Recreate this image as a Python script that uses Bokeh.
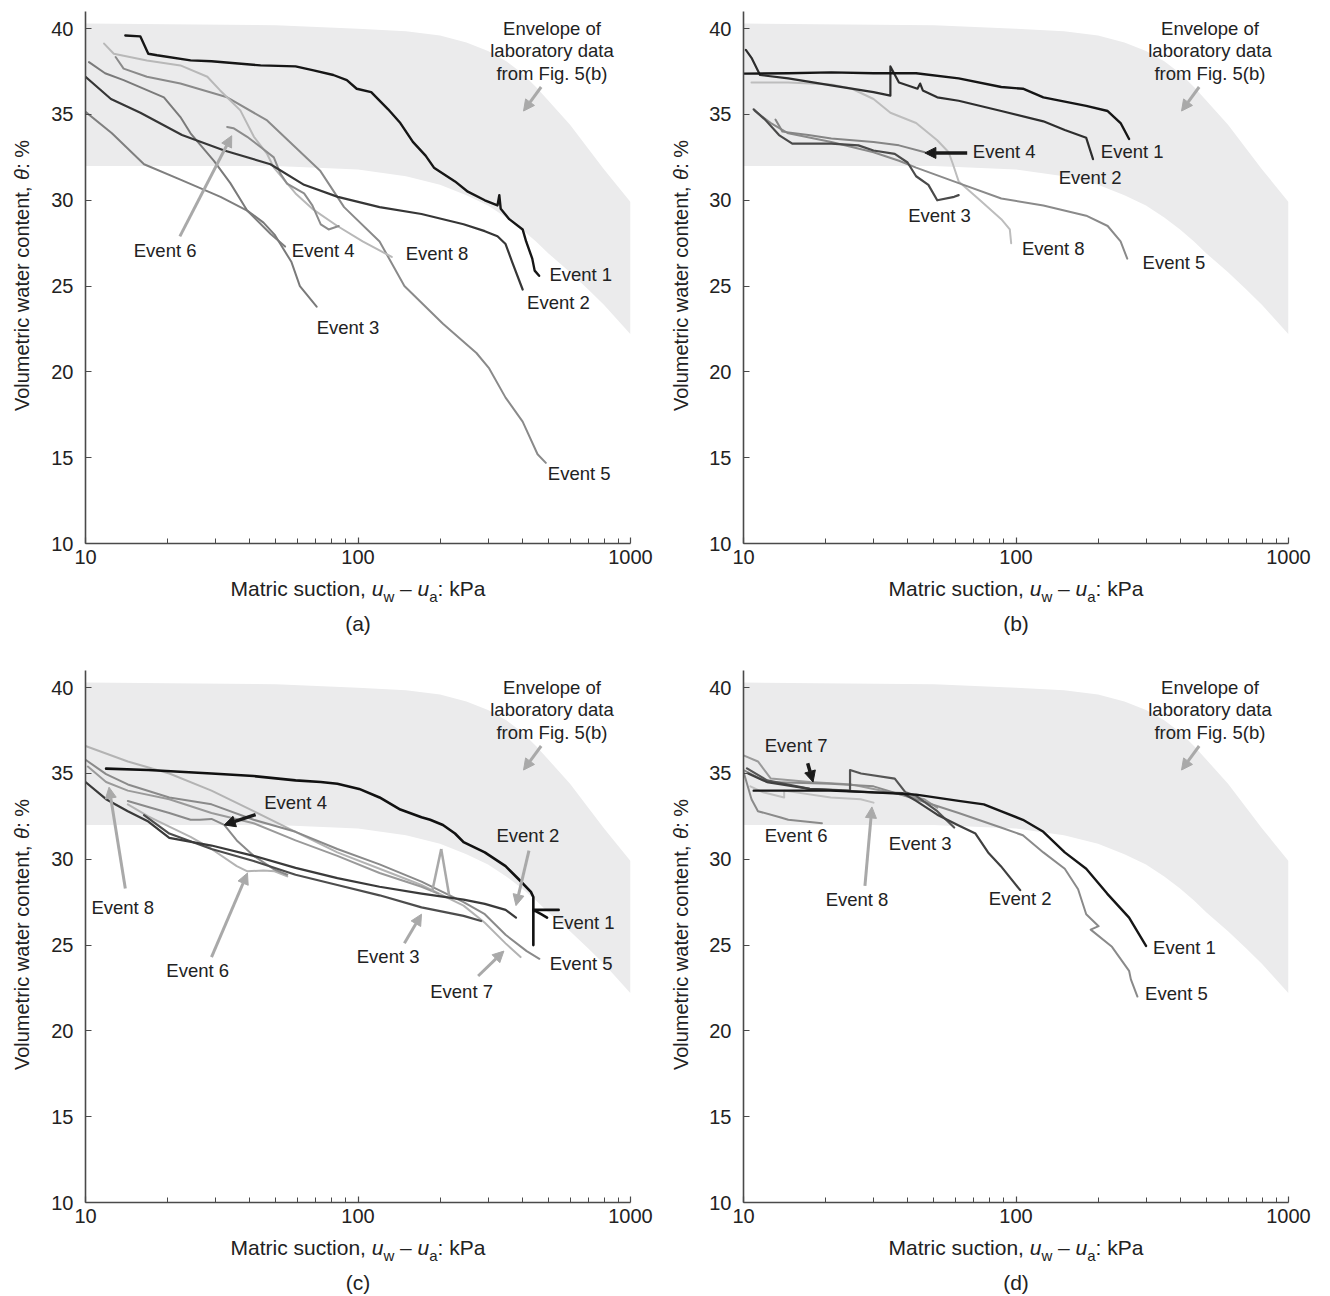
import math
from bokeh.plotting import figure
from bokeh.models import Label, Arrow, NormalHead, FixedTicker, PrintfTickFormatter, Range1d, Spacer
from bokeh.layouts import row, column
from bokeh.embed import file_html
from bokeh.resources import INLINE

# ---------------- envelope of laboratory data ----------------
env_x = [10, 50, 100, 150, 200, 250, 300, 350, 400, 450, 500, 600, 700, 800, 1000]
env_upper = [40.3, 40.2, 40.0, 39.85, 39.6, 39.2, 38.7, 38.1, 37.4, 36.6, 35.8, 34.4, 33.0, 31.8, 29.9]
env_lower = [32.0, 32.0, 31.8, 31.4, 30.9, 30.3, 29.7, 29.0, 28.3, 27.6, 26.9, 25.8, 24.8, 23.9, 22.2]

# ---------------- panel (a) ----------------
a_e1_x = [14.0, 15.9, 17.0, 18.3, 24.3, 29.0, 43.9, 59.0, 68.7, 81.2, 91.0, 98.9, 111.8, 129, 143, 159, 177, 190, 227, 253, 292, 325, 330, 334, 359, 402, 414, 436, 445, 462]
a_e1_y = [39.6, 39.55, 38.54, 38.45, 38.15, 38.1, 37.86, 37.8, 37.57, 37.3, 37.0, 36.5, 36.3, 35.3, 34.5, 33.4, 32.6, 31.9, 31.1, 30.5, 30.0, 29.7, 30.3, 29.5, 28.9, 28.3, 27.6, 26.6, 25.9, 25.6]
a_e2_x = [10, 12.4, 15.9, 22.6, 32.3, 47.7, 63.4, 84.3, 120, 171, 244, 292, 325, 348, 368, 402]
a_e2_y = [37.2, 35.9, 35.1, 33.8, 32.9, 32.1, 30.9, 30.2, 29.6, 29.2, 28.6, 28.2, 27.9, 27.45, 26.4, 24.8]
a_e3_x = [10.3, 11.8, 13.8, 19.4, 22.3, 24.3, 29.6, 34.0, 39.2, 45.0, 49.4, 57.0, 61.2, 70.5]
a_e3_y = [38.05, 37.4, 37.0, 36.0, 34.85, 33.9, 32.3, 31.0, 29.4, 28.7, 28.0, 26.4, 25.0, 23.8]
a_e4_x = [10, 12.5, 16.4, 22.3, 31.3, 39.2, 47.7, 54.0]
a_e4_y = [35.15, 33.9, 32.1, 31.2, 30.2, 29.4, 28.05, 27.3]
a_e5_x = [12.9, 13.8, 16.8, 22.3, 33.1, 46.4, 72.8, 88.9, 120, 148, 205, 272, 303, 348, 402, 456, 489]
a_e5_y = [38.35, 37.67, 37.2, 36.8, 36.0, 34.65, 31.7, 29.6, 27.6, 25.0, 22.8, 21.1, 20.2, 18.5, 17.1, 15.2, 14.7]
a_e6_x = [33.1, 34.9, 39.2, 43.9, 49.1, 51.9, 54.9, 63.4, 68.0, 73.0, 78.0, 85.0]
a_e6_y = [34.27, 34.2, 33.7, 33.1, 32.5, 31.55, 30.97, 30.4, 29.7, 28.6, 28.3, 28.5]
a_e8_x = [11.7, 12.7, 16.8, 22.3, 28.0, 31.2, 37.0, 41.5, 46.4, 49.1, 59.0, 68.0, 84.0, 104, 133]
a_e8_y = [39.13, 38.54, 38.15, 37.86, 37.2, 36.4, 35.24, 33.7, 32.7, 31.9, 30.4, 29.5, 28.5, 27.6, 26.7]

# ---------------- panel (b) ----------------
b_e1_x = [10, 14.6, 21.0, 30.0, 34.6, 43.0, 61.6, 88.3, 106, 126, 181, 217, 242, 260]
b_e1_y = [37.38, 37.4, 37.45, 37.4, 37.4, 37.4, 37.1, 36.6, 36.5, 36.0, 35.5, 35.2, 34.5, 33.57]
b_e2_x = [10.2, 10.7, 11.5, 14.6, 21.0, 30.0, 34.6, 34.6, 37.2, 43.5, 44.5, 45.5, 51.4, 61.6, 88.3, 126, 151, 181, 191.7]
b_e2_y = [38.76, 38.3, 37.3, 37.1, 36.7, 36.3, 36.1, 37.8, 36.86, 36.5, 36.8, 36.4, 36.0, 35.8, 35.2, 34.6, 34.1, 33.64, 32.4]
b_e3_x = [10.9, 12.0, 13.5, 15.1, 21.0, 26.4, 30.0, 35.9, 40.0, 43.0, 47.7, 51.4, 59.3, 61.6]
b_e3_y = [35.3, 34.7, 33.8, 33.3, 33.3, 33.2, 32.9, 32.7, 32.2, 31.4, 30.9, 30.0, 30.2, 30.3]
b_e4_x = [13.1, 13.9, 17.3, 21.0, 30.0, 37.2, 46.3]
b_e4_y = [34.7, 34.0, 33.8, 33.6, 33.4, 33.2, 32.8]
b_e5_x = [11.0, 12.6, 14.6, 21.0, 30.0, 37.2, 43.0, 61.6, 88.3, 126, 181, 217, 242, 256]
b_e5_y = [35.2, 34.5, 33.9, 33.4, 32.8, 32.3, 31.9, 31.0, 30.1, 29.7, 29.1, 28.5, 27.6, 26.6]
b_e8_x = [10.7, 14.6, 21.0, 25.0, 30.0, 34.6, 43.0, 51.4, 56.6, 58.7, 61.6, 73.8, 88.3, 94.9, 96.0]
b_e8_y = [36.86, 36.86, 36.75, 36.5, 35.9, 35.1, 34.5, 33.5, 32.8, 32.1, 31.1, 30.0, 28.9, 28.3, 27.5]

# ---------------- panel (c) ----------------
c_e1_x = [11.9, 17.0, 29.0, 41.4, 59.0, 73.0, 84.0, 101, 120, 143, 171, 184, 205, 227, 244, 292, 348, 388, 431, 440, 440, 440, 470, 494]
c_e1_y = [35.28, 35.2, 35.0, 34.85, 34.6, 34.5, 34.4, 34.1, 33.6, 32.9, 32.45, 32.3, 32.0, 31.5, 31.0, 30.4, 29.6, 28.85, 28.1, 27.8, 25.0, 27.05, 26.8, 26.6]
c_e1_tail_x = [440, 545]
c_e1_tail_y = [27.05, 27.05]
c_e2_x = [10, 11.9, 14.3, 17, 20.3, 29, 41.4, 59, 84, 120, 171, 244, 292, 348, 380]
c_e2_y = [34.5, 33.5, 32.8, 32.2, 31.25, 30.8, 30.2, 29.5, 28.9, 28.4, 28.0, 27.65, 27.4, 27.05, 26.6]
c_e3_x = [16.4, 20.3, 29, 41.4, 59, 84, 120, 171, 244, 283]
c_e3_y = [32.57, 31.5, 30.6, 29.9, 29.1, 28.5, 27.9, 27.2, 26.7, 26.4]
c_e4_x = [14.3, 17, 20.3, 24.3, 26.3, 29, 32.3, 35.9, 41.4, 49.4, 55]
c_e4_y = [33.4, 33.05, 32.7, 32.3, 32.3, 32.35, 32.0, 31.1, 30.2, 29.4, 29.1]
c_e5_x = [10, 11.9, 14.3, 20.3, 29, 41.4, 59, 84, 120, 171, 244, 292, 348, 416, 463]
c_e5_y = [35.8, 34.96, 34.36, 33.6, 33.2, 32.3, 31.6, 30.6, 29.7, 28.7, 27.5, 26.8, 25.6, 24.65, 24.2]
c_e6_x = [14.3, 17, 20.3, 24.3, 29, 35.9, 39.3, 45, 49.4, 55]
c_e6_y = [33.2, 32.5, 31.9, 31.3, 30.6, 29.6, 29.3, 29.35, 29.3, 29.0]
c_e7_x = [10, 14.3, 20.3, 29, 41.4, 59, 84, 120, 171, 244, 292, 348, 395]
c_e7_y = [36.6, 35.7, 35.0, 34.0, 32.8, 31.6, 30.4, 29.45, 28.5, 27.3, 26.3, 25.1, 24.3]
c_e8_x = [10.2, 11.9, 14.3, 20.3, 29, 41.4, 59, 84, 120, 171, 197]
c_e8_y = [35.4, 34.5, 34.0, 33.5, 32.7, 32.1, 31.1, 30.2, 29.2, 28.4, 28.0]

# ---------------- panel (d) ----------------
d_e1_x = [10.9, 20.9, 30, 43, 61.6, 76.2, 88, 106, 126, 151, 181, 216, 260, 300]
d_e1_y = [34.0, 34.0, 33.9, 33.77, 33.4, 33.2, 32.8, 32.3, 31.6, 30.4, 29.45, 28.0, 26.6, 24.95]
d_e2_x = [10.4, 12.2, 17.5, 30, 38.5, 43, 51.4, 61.6, 71, 79, 88, 103.6]
d_e2_y = [35.0, 34.5, 34.1, 33.9, 33.85, 33.4, 32.6, 31.97, 31.5, 30.4, 29.6, 28.2]
d_e3_x = [10.3, 12.2, 17.5, 24.6, 24.6, 27, 35.9, 39.3, 43, 51.4, 59.3]
d_e3_y = [35.3, 34.6, 34.1, 34.0, 35.2, 35.0, 34.7, 33.9, 33.7, 32.8, 31.85]
d_e5_x = [10, 12.2, 20.9, 30, 43, 61.6, 88, 106, 126, 151, 169, 181, 201, 188, 225, 260, 264, 279]
d_e5_y = [35.2, 34.5, 34.4, 34.25, 33.5, 32.7, 31.85, 31.4, 30.4, 29.45, 28.25, 26.8, 26.1, 25.9, 24.9, 23.5, 23.0, 22.0]
d_e6_x = [10, 10.7, 11.3, 13.6, 14.6, 19.4]
d_e6_y = [35.1, 33.5, 32.8, 32.45, 32.3, 32.1]
d_e7_x = [10, 11.3, 12.6, 17.5, 25, 30, 35.9, 46.1, 51.4]
d_e7_y = [36.05, 35.7, 34.7, 34.5, 34.35, 34.1, 33.85, 33.5, 33.0]
d_e8_x = [10.6, 11.8, 14.1, 14.1, 20.9, 26.9, 30]
d_e8_y = [34.25, 33.9, 33.6, 34.0, 33.6, 33.5, 33.3]

x_major_ticks = [10, 100, 1000]
x_minor_ticks = [20, 30, 40, 50, 60, 70, 80, 90, 200, 300, 400, 500, 600, 700, 800, 900]
y_major_ticks = [10, 15, 20, 25, 30, 35, 40]

FONT = "Liberation Sans"
TXT = "#222222"
GRAY_ARROW = "#a9a9a9"
BLACK = "#1a1a1a"
LEFT = 37            # main figure left border (tick labels)
RIGHT = 36
TOP = 3
BOTTOM = 32
FRAME_W, FRAME_H = 545, 532
MAIN_H = TOP + FRAME_H + BOTTOM

# Arial / Liberation Sans advance widths (per 1000 em)
W = {' ': 278, ',': 278, ':': 278, '%': 889, '–': 556, 'M': 833, 'a': 556, 't': 278, 'r': 333,
     'i': 222, 'c': 500, 's': 500, 'u': 556, 'o': 556, 'n': 556, 'k': 500, 'P': 667, 'V': 667,
     'l': 222, 'm': 833, 'e': 556, 'w': 722, 'θ': 556}


def tw(s, size):
    return sum(W.get(ch, 556) for ch in s) * size / 1000.0


def blank(width, height):
    f = figure(width=width, height=height, x_range=Range1d(0, 1), y_range=Range1d(0, 1),
               output_backend="svg", toolbar_location=None, min_border=0, x_axis_location=None,
               y_axis_location=None)
    f.outline_line_color = None
    f.grid.visible = False
    f.background_fill_color = "white"
    f.border_fill_color = "white"
    return f


def xlabel_strip(ylab_w, height, letter, title_d, letter_d):
    # title_d / letter_d: distance (px) of the text centre line below the plot frame
    f = blank(ylab_w + LEFT + FRAME_W + RIGHT, height)

    def ypos(d):
        return height - (d - BOTTOM)

    big, small = 21, 15
    parts = [("Matric suction,", big, "normal", 0), (" ", big, None, 0), ("u", big, "italic", 0),
             ("w", small, "normal", 7.8), (" ", big, None, 0), ("–", big, "normal", 0), (" ", big, None, 0),
             ("u", big, "italic", 0), ("a", small, "normal", 7.8), (": kPa", big, "normal", 0)]
    total = sum(tw(t, s) for t, s, _, _ in parts)
    cx = ylab_w + LEFT + FRAME_W / 2.0
    x = cx - total / 2.0
    for t, s, style, dy in parts:
        if style is not None:
            f.add_layout(Label(x=x, y=ypos(title_d + dy), x_units="screen", y_units="screen", text=t,
                               text_font=FONT, text_font_size=f"{s}px", text_font_style=style,
                               text_color=TXT, text_align="left", text_baseline="middle"))
        x += tw(t, s)
    f.add_layout(Label(x=cx, y=ypos(letter_d), x_units="screen", y_units="screen",
                       text=letter, text_font=FONT, text_font_size="21px", text_color=TXT,
                       text_align="center", text_baseline="middle"))
    return f


def ylabel_strip(ylab_w, center_x):
    f = blank(ylab_w, MAIN_H)
    big = 20
    parts = [("Volumetric water content,", "normal"), (" ", None), ("θ", "italic"), (": %", "normal")]
    total = sum(tw(t, big) for t, _ in parts)
    # start of the rotated title (measured upward from the strip bottom); -30 corrects the
    # renderer's offset for rotated text observed in earlier renders
    y = BOTTOM + FRAME_H / 2.0 - total / 2.0 - 30
    for t, style in parts:
        if style is not None:
            f.add_layout(Label(x=center_x, y=y, x_units="screen", y_units="screen", text=t,
                               angle=math.pi / 2, text_font=FONT, text_font_size=f"{big}px",
                               text_font_style=style, text_color=TXT, text_align="left",
                               text_baseline="middle"))
        y += tw(t, big)
    return f


def make_panel(letter, series, labels, arrows, segments, ylab_w, ylab_cx, strip_h):
    p = figure(width=LEFT + FRAME_W + RIGHT, height=MAIN_H, x_axis_type="log",
               x_range=Range1d(10, 1000), y_range=Range1d(10, 41), output_backend="svg",
               toolbar_location=None, min_border_left=LEFT, min_border_right=RIGHT, min_border_top=TOP,
               min_border_bottom=BOTTOM)
    p.outline_line_color = None
    p.grid.visible = False
    p.background_fill_color = "white"
    p.border_fill_color = "white"

    p.varea(x=env_x, y1=env_lower, y2=env_upper, fill_color="#ebebec", fill_alpha=1.0)

    for xs, ys, col, lw in series:
        p.line(xs, ys, line_color=col, line_width=lw, line_join="round", line_cap="round")

    for x0, y0, x1, y1, col in segments:
        p.line([x0, x1], [y0, y1], line_color=col, line_width=2.5)

    for x0, y0, x1, y1, col, lw in arrows:
        p.add_layout(Arrow(end=NormalHead(size=11, fill_color=col, line_color=col, line_width=1),
                           x_start=x0, y_start=y0, x_end=x1, y_end=y1, line_color=col, line_width=lw))

    # envelope annotation
    for t, yy in [("Envelope of", 40.0), ("laboratory data", 38.7), ("from Fig. 5(b)", 37.4)]:
        p.add_layout(Label(x=515, y=yy, text=t, text_font=FONT, text_font_size="18.5px", text_color=TXT,
                           text_align="center", text_baseline="middle"))
    p.add_layout(Arrow(end=NormalHead(size=11, fill_color=GRAY_ARROW, line_color=GRAY_ARROW, line_width=1),
                       x_start=470, y_start=36.6, x_end=405, y_end=35.2, line_color=GRAY_ARROW, line_width=3))

    for t, x, y in labels:
        p.add_layout(Label(x=x, y=y, text=t, text_font=FONT, text_font_size="18.5px", text_color=TXT,
                           text_align="center", text_baseline="middle"))

    for ax in (p.xaxis[0], p.yaxis[0]):
        ax.axis_line_color = "#4a4a4a"
        ax.axis_line_width = 1.6
        ax.major_tick_line_color = "#4a4a4a"
        ax.minor_tick_line_color = "#4a4a4a"
        ax.major_tick_line_width = 1.2
        ax.minor_tick_line_width = 1.0
        ax.major_tick_in = 6
        ax.major_tick_out = 0
        ax.minor_tick_in = 5
        ax.minor_tick_out = 0
        ax.major_label_text_font = FONT
        ax.major_label_text_font_size = "20px"
        ax.major_label_text_color = TXT
    p.xaxis.ticker = FixedTicker(ticks=x_major_ticks, minor_ticks=x_minor_ticks)
    p.xaxis.formatter = PrintfTickFormatter(format="%d")
    p.xaxis.major_label_standoff = 6
    p.yaxis.ticker = FixedTicker(ticks=y_major_ticks, minor_ticks=[])
    p.yaxis.formatter = PrintfTickFormatter(format="%d")
    p.yaxis.major_label_standoff = 12

    return column(row(ylabel_strip(ylab_w, ylab_cx), p, spacing=0),
                  xlabel_strip(ylab_w, strip_h, letter, 45, 80), spacing=0)


pa = make_panel(
    "(a)",
    [(a_e5_x, a_e5_y, "#8a8a8a", 2.0), (a_e4_x, a_e4_y, "#7f7f7f", 2.0), (a_e3_x, a_e3_y, "#7a7a7a", 2.0),
     (a_e8_x, a_e8_y, "#b8b8b8", 2.0), (a_e6_x, a_e6_y, "#8c8c8c", 2.0), (a_e2_x, a_e2_y, "#363636", 2.2),
     (a_e1_x, a_e1_y, "#161616", 2.4)],
    [("Event 6", 19.6, 27.05), ("Event 4", 74.5, 27.05), ("Event 8", 195, 26.9), ("Event 1", 657, 25.67),
     ("Event 2", 544, 24.07), ("Event 3", 91.9, 22.57), ("Event 5", 648, 14.07)],
    [(22.2, 27.9, 34.4, 33.76, GRAY_ARROW, 3)],
    [], 48, 21, 92)

pb = make_panel(
    "(b)",
    [(b_e8_x, b_e8_y, "#bdbdbd", 2.0), (b_e5_x, b_e5_y, "#8a8a8a", 2.0), (b_e4_x, b_e4_y, "#858585", 2.0),
     (b_e3_x, b_e3_y, "#4a4a4a", 2.2), (b_e2_x, b_e2_y, "#2e2e2e", 2.2), (b_e1_x, b_e1_y, "#161616", 2.4)],
    [("Event 4", 90.5, 32.86), ("Event 1", 267, 32.86), ("Event 2", 187, 31.33), ("Event 3", 52.4, 29.1),
     ("Event 8", 137, 27.2), ("Event 5", 380, 26.4)],
    [(66.2, 32.76, 46.3, 32.76, BLACK, 3.5)],
    [], 40, 14, 92)

pc = make_panel(
    "(c)",
    [(c_e7_x, c_e7_y, "#b3b3b3", 2.0), (c_e6_x, c_e6_y, "#b3b3b3", 2.0), (c_e8_x, c_e8_y, "#9a9a9a", 2.0),
     (c_e5_x, c_e5_y, "#8a8a8a", 2.0), (c_e4_x, c_e4_y, "#8a8a8a", 2.0), (c_e3_x, c_e3_y, "#4d4d4d", 2.2),
     (c_e2_x, c_e2_y, "#3a3a3a", 2.2), (c_e1_x, c_e1_y, "#111111", 2.6),
     (c_e1_tail_x, c_e1_tail_y, "#111111", 2.6)],
    [("Event 4", 59, 33.3), ("Event 2", 420, 31.4), ("Event 8", 13.7, 27.2), ("Event 1", 671, 26.33),
     ("Event 3", 129, 24.33), ("Event 5", 659, 23.93), ("Event 6", 25.8, 23.5), ("Event 7", 240, 22.3)],
    [(14.0, 28.3, 12.2, 34.2, GRAY_ARROW, 3), (29, 24.3, 39.3, 29.2, GRAY_ARROW, 3),
     (148, 25.1, 171, 26.8, GRAY_ARROW, 3), (276, 23.2, 343, 24.65, GRAY_ARROW, 3),
     (424, 30.5, 380, 27.3, GRAY_ARROW, 3), (42.1, 32.6, 32.3, 32.0, BLACK, 3.5)],
    [(202, 30.6, 187, 28.1, GRAY_ARROW), (202, 30.6, 216, 27.9, GRAY_ARROW)],
    48, 21, 60)

pd_ = make_panel(
    "(d)",
    [(d_e8_x, d_e8_y, "#c0c0c0", 2.0), (d_e6_x, d_e6_y, "#8a8a8a", 2.0), (d_e7_x, d_e7_y, "#9a9a9a", 2.0),
     (d_e5_x, d_e5_y, "#8a8a8a", 2.0), (d_e3_x, d_e3_y, "#555555", 2.2), (d_e2_x, d_e2_y, "#404040", 2.2),
     (d_e1_x, d_e1_y, "#161616", 2.4)],
    [("Event 7", 15.6, 36.65), ("Event 6", 15.6, 31.37), ("Event 3", 44.5, 30.9), ("Event 8", 26.1, 27.65),
     ("Event 2", 103.6, 27.7), ("Event 1", 415, 24.85), ("Event 5", 388, 22.15)],
    [(17.2, 35.6, 18.0, 34.5, BLACK, 3.5), (27.9, 28.45, 29.6, 33.05, GRAY_ARROW, 3)],
    [], 40, 14, 60)

page = column(Spacer(width=10, height=8), row(pa, pb, spacing=0), row(pc, pd_, spacing=0), spacing=0)
open("out.html", "w").write(file_html(page, INLINE))
